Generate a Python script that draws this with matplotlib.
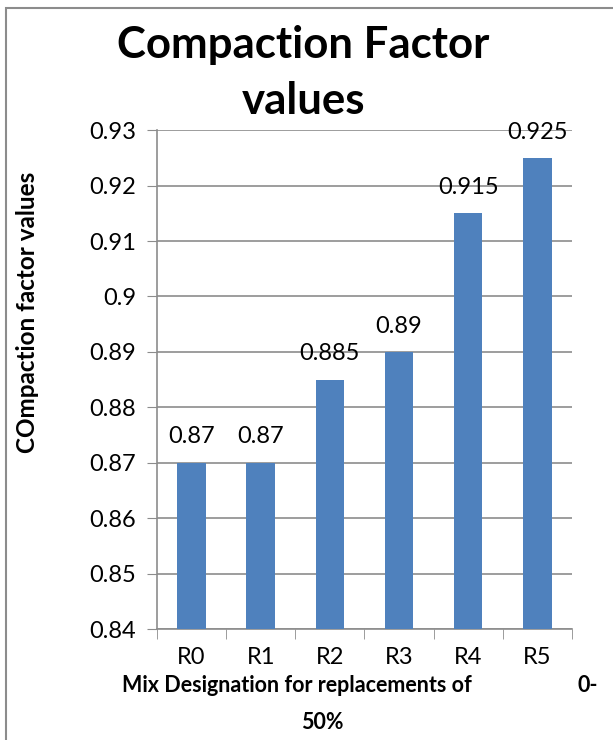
import matplotlib.pyplot as plt
from matplotlib.patches import Rectangle

mixes = ["R0", "R1", "R2", "R3", "R4", "R5"]
cf_values = [0.87, 0.87, 0.885, 0.89, 0.915, 0.925]
value_labels = ["0.87", "0.87", "0.885", "0.89", "0.915", "0.925"]
y_ticks = [0.84, 0.85, 0.86, 0.87, 0.88, 0.89, 0.90, 0.91, 0.92, 0.93]
y_tick_labels = ["0.84", "0.85", "0.86", "0.87", "0.88", "0.89", "0.9", "0.91", "0.92", "0.93"]

plt.rcParams["font.family"] = ["Lato", "DejaVu Sans"]

fig = plt.figure(figsize=(6.13, 7.4), dpi=100)
ax = fig.add_axes([0.256, 0.15, 0.677, 0.674])

bar_color = "#4F81BD"
grid_color = "#8C8C8C"

x = range(len(mixes))
ax.bar(x, cf_values, width=0.41, color=bar_color, zorder=3, bottom=0)
ax.set_ylim(0.84, 0.93)
ax.set_xlim(-0.5, len(mixes) - 0.5)

for i, (v, lab) in enumerate(zip(cf_values, value_labels)):
    ax.annotate(lab, (i, v), xytext=(0, 11), textcoords="offset points",
                ha="center", va="bottom", fontsize=17, zorder=4)

ax.set_yticks(y_ticks)
ax.set_yticklabels(y_tick_labels, fontsize=17)
ax.set_xticks(list(x))
ax.set_xticklabels(mixes, fontsize=17)
ax.set_xticks([i - 0.5 for i in range(len(mixes) + 1)], minor=True)
ax.tick_params(axis="x", which="major", length=0, pad=13)
ax.tick_params(axis="x", which="minor", length=7, color=grid_color, direction="out")
ax.tick_params(axis="y", length=7, color=grid_color, direction="out", pad=8)

ax.grid(axis="y", color=grid_color, linewidth=1.2, zorder=0)
ax.set_axisbelow(True)
for side in ["top", "right"]:
    ax.spines[side].set_visible(False)
for side in ["left", "bottom"]:
    ax.spines[side].set_color(grid_color)
    ax.spines[side].set_linewidth(1.2)

ax.set_ylabel("COmpaction factor values", fontsize=17.5, fontweight="bold")
ax.yaxis.set_label_coords(-0.284, 0.635)

fig.text(0.495, 0.939, "Compaction Factor", ha="center", va="center",
         fontsize=31.5, fontweight="bold")
fig.text(0.495, 0.864, "values", ha="center", va="center",
         fontsize=31.5, fontweight="bold")

fig.text(0.199, 0.073, "Mix Designation for replacements of", ha="left", va="center",
         fontsize=15.5, fontweight="bold")
fig.text(0.975, 0.073, "0-", ha="right", va="center", fontsize=15.5, fontweight="bold")
fig.text(0.525, 0.023, "50%", ha="center", va="center", fontsize=15.5, fontweight="bold")

# chart area outline
fig.patches.append(Rectangle((0.009, -0.05), 1.2, 1.039, transform=fig.transFigure,
                             fill=False, edgecolor="#8C8C8C", linewidth=1.5))

fig.savefig("out.png", dpi=100)
